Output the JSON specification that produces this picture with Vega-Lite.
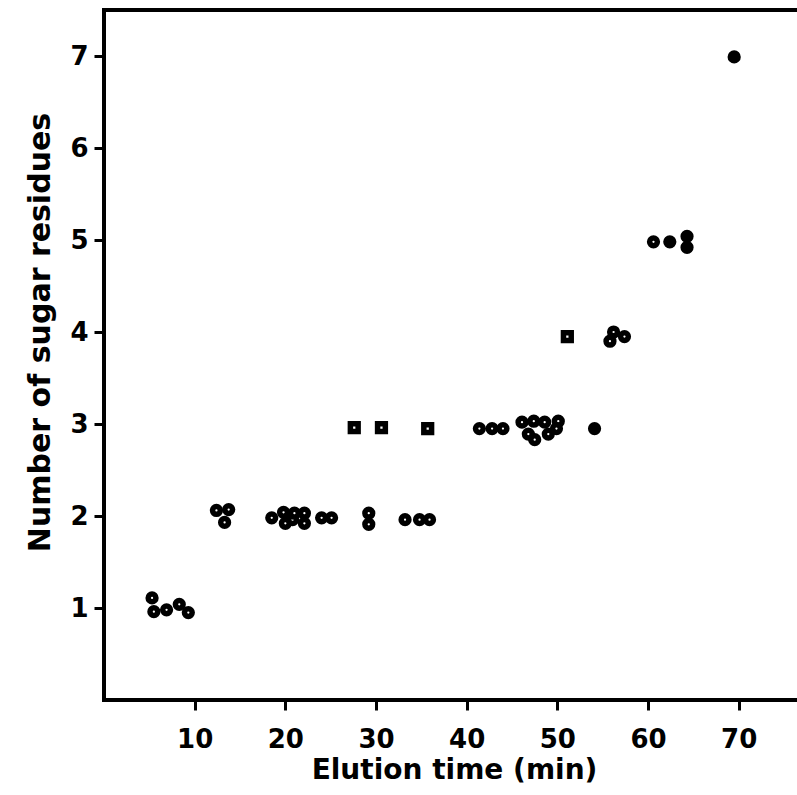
{
  "$schema": "https://vega.github.io/schema/vega-lite/v6.json",
  "autosize": {"type": "none"},
  "padding": {"left": 104, "top": 10, "right": 0, "bottom": 95},
  "width": 700,
  "height": 690,
  "background": "white",
  "config": {
    "view": {"stroke": "black", "strokeWidth": 4},
    "font": "DejaVu Sans"
  },
  "data": {
    "values": [
      {"time": 5.3, "residues": 1.11, "marker": "open"},
      {"time": 5.5, "residues": 0.96, "marker": "open"},
      {"time": 6.9, "residues": 0.98, "marker": "open"},
      {"time": 8.3, "residues": 1.04, "marker": "open"},
      {"time": 9.3, "residues": 0.95, "marker": "open"},
      {"time": 12.4, "residues": 2.06, "marker": "open"},
      {"time": 13.75, "residues": 2.07, "marker": "open"},
      {"time": 13.3, "residues": 1.93, "marker": "open"},
      {"time": 18.5, "residues": 1.98, "marker": "open"},
      {"time": 19.8, "residues": 2.04, "marker": "open"},
      {"time": 20.0, "residues": 1.92, "marker": "open"},
      {"time": 20.8, "residues": 1.96, "marker": "open"},
      {"time": 21.0, "residues": 2.03, "marker": "open"},
      {"time": 22.1, "residues": 2.03, "marker": "open"},
      {"time": 22.1, "residues": 1.92, "marker": "open"},
      {"time": 24.0, "residues": 1.98, "marker": "open"},
      {"time": 25.1, "residues": 1.98, "marker": "open"},
      {"time": 29.2, "residues": 2.03, "marker": "open"},
      {"time": 29.2, "residues": 1.91, "marker": "open"},
      {"time": 33.2, "residues": 1.96, "marker": "open"},
      {"time": 34.8, "residues": 1.96, "marker": "open"},
      {"time": 35.9, "residues": 1.96, "marker": "open"},
      {"time": 27.6, "residues": 2.96, "marker": "square"},
      {"time": 30.6, "residues": 2.96, "marker": "square"},
      {"time": 35.7, "residues": 2.95, "marker": "square"},
      {"time": 41.4, "residues": 2.95, "marker": "open"},
      {"time": 42.8, "residues": 2.95, "marker": "open"},
      {"time": 44.0, "residues": 2.95, "marker": "open"},
      {"time": 46.1, "residues": 3.02, "marker": "open"},
      {"time": 47.4, "residues": 3.03, "marker": "open"},
      {"time": 48.6, "residues": 3.02, "marker": "open"},
      {"time": 50.1, "residues": 3.03, "marker": "open"},
      {"time": 46.8, "residues": 2.89, "marker": "open"},
      {"time": 47.5, "residues": 2.83, "marker": "open"},
      {"time": 49.0, "residues": 2.89, "marker": "open"},
      {"time": 49.9, "residues": 2.95, "marker": "open"},
      {"time": 54.1, "residues": 2.95, "marker": "filled"},
      {"time": 51.1, "residues": 3.95, "marker": "square"},
      {"time": 56.2, "residues": 4.0, "marker": "open"},
      {"time": 55.8, "residues": 3.9, "marker": "open"},
      {"time": 57.4, "residues": 3.95, "marker": "open"},
      {"time": 60.6, "residues": 4.98, "marker": "open"},
      {"time": 62.4, "residues": 4.98, "marker": "filled"},
      {"time": 64.3, "residues": 5.04, "marker": "filled"},
      {"time": 64.3, "residues": 4.92, "marker": "filled"},
      {"time": 69.5, "residues": 6.99, "marker": "filled"}
    ]
  },
  "mark": {"type": "point", "filled": true, "stroke": "black", "strokeWidth": 5.5, "size": 60, "opacity": 1},
  "encoding": {
    "x": {
      "field": "time", "type": "quantitative",
      "scale": {"domain": [0, 77.2], "nice": false, "zero": false},
      "axis": {
        "title": "Elution time (min)",
        "values": [10, 20, 30, 40, 50, 60, 70],
        "grid": false,
        "domain": false,
        "tickColor": "black", "tickWidth": 3, "tickSize": 10,
        "labelFont": "DejaVu Sans", "labelFontWeight": "bold", "labelFontSize": 26, "labelColor": "black",
        "labelPadding": 16,
        "titleFont": "DejaVu Sans", "titleFontWeight": "bold", "titleFontSize": 28, "titleColor": "black",
        "titlePadding": 4
      }
    },
    "y": {
      "field": "residues", "type": "quantitative",
      "scale": {"domain": [0, 7.5], "nice": false, "zero": false},
      "axis": {
        "title": "Number of sugar residues",
        "values": [1, 2, 3, 4, 5, 6, 7],
        "grid": false,
        "domain": false,
        "tickColor": "black", "tickWidth": 3, "tickSize": 10,
        "labelFont": "DejaVu Sans", "labelFontWeight": "bold", "labelFontSize": 26, "labelColor": "black",
        "labelPadding": 6,
        "titleFont": "DejaVu Sans", "titleFontWeight": "bold", "titleFontSize": 30, "titleColor": "black",
        "titleY": 322,
        "titlePadding": 14
      }
    },
    "shape": {
      "field": "marker", "type": "nominal",
      "scale": {"domain": ["open", "filled", "square"], "range": ["circle", "circle", "square"]},
      "legend": null
    },
    "fill": {
      "field": "marker", "type": "nominal",
      "scale": {"domain": ["open", "filled", "square"], "range": ["white", "black", "white"]},
      "legend": null
    }
  }
}
